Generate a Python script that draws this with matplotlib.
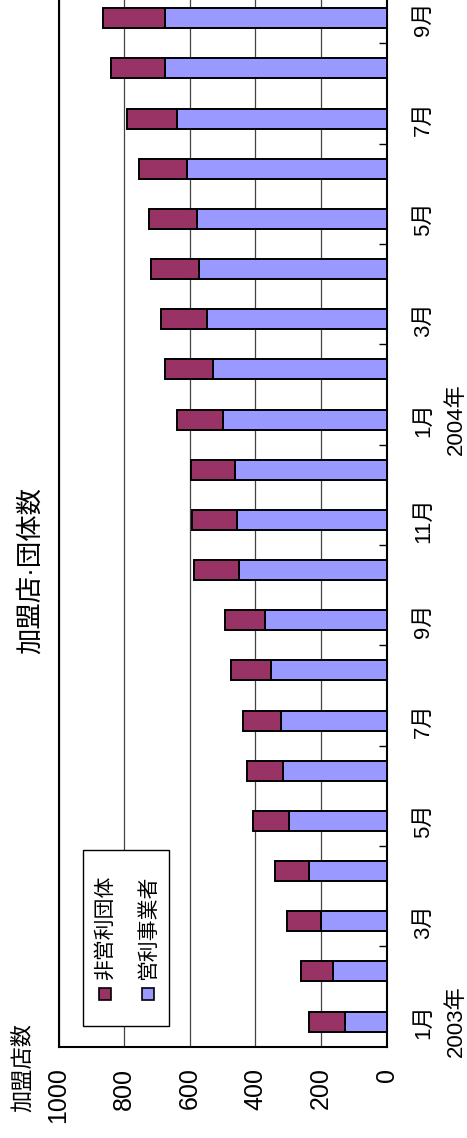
import numpy as np
import matplotlib
matplotlib.use("Agg")
import matplotlib.pyplot as plt
from matplotlib.patches import Rectangle

plt.rcParams['font.family'] = ['Liberation Sans', 'Noto Sans CJK JP', 'DejaVu Sans']

# 2003年1月 .. 2004年9月
months = ['1月', '2月', '3月', '4月', '5月', '6月', '7月', '8月', '9月', '10月', '11月', '12月',
          '1月', '2月', '3月', '4月', '5月', '6月', '7月', '8月', '9月']
years = {0: '2003年', 12: '2004年'}
commercial = [128, 163, 201, 236, 297, 317, 323, 353, 371, 450, 456, 462,
              498, 530, 548, 571, 577, 608, 639, 676, 676]
nonprofit = [108, 99, 103, 105, 111, 109, 115, 122, 122, 136, 136, 135,
             142, 146, 141, 148, 147, 147, 152, 164, 188]
series_names = ['非営利団体', '営利事業者']
value_ticks = [0, 200, 400, 600, 800, 1000]

C_NP = '#993366'
C_CO = '#9999FF'

W, H = 467, 1138
AX_L, AX_R, AX_B, AX_T = 58.5, 386.7, 1046.7, -6.8   # pixel edges of plot area


def fx(px):
  return px / W


def fy(py):
  return 1 - py / H


fig = plt.figure(figsize=(W / 100, H / 100), dpi=100)
ax = fig.add_axes([fx(AX_L), fy(AX_B), fx(AX_R) - fx(AX_L), fy(AX_T) - fy(AX_B)])

y = np.arange(len(months))
ax.barh(y, commercial, height=0.4, color=C_CO, edgecolor='black', linewidth=1.4, zorder=3)
ax.barh(y, nonprofit, left=commercial, height=0.4, color=C_NP, edgecolor='black',
        linewidth=1.4, zorder=3)

ax.set_xlim(1000, 0)
ax.set_ylim(-0.5, len(months) - 0.5)
ax.set_xticks(value_ticks)
ax.set_xticklabels([str(v) for v in value_ticks])
ax.tick_params(axis='x', length=0, pad=15, labelsize=18, labelrotation=90)
ax.xaxis.grid(True, color='#444444', linewidth=0.9, zorder=0)
ax.set_axisbelow(True)

ax.yaxis.tick_right()
ax.set_yticks(y[::2])
ax.set_yticklabels(months[::2])
ax.set_yticks(np.arange(1.5, len(months) - 1, 2), minor=True)
ax.tick_params(axis='y', which='major', length=0, pad=19, labelsize=16, labelrotation=90)
ax.tick_params(axis='y', which='minor', direction='in', length=6, width=1, color='black')
for lab in ax.get_yticklabels():
  lab.set_verticalalignment('center')

for s in ax.spines.values():
  s.set_linewidth(1.5)
  s.set_color('black')

year_x = (456 - AX_L) / (AX_R - AX_L)
for idx, yr in years.items():
  ax.text(year_x, idx, yr, transform=ax.get_yaxis_transform(),
          rotation=90, ha='center', va='center', fontsize=16, clip_on=False)

# title and axis label
fig.text(fx(30), fy(570), '加盟店·団体数', rotation=90, ha='center', va='center', fontsize=19)
fig.text(fx(23), fy(1068), '加盟店数', rotation=90, ha='center', va='center', fontsize=16)

# legend (rotated like the rest of the chart)
leg = Rectangle((fx(82.7), fy(1025.7)), fx(168.7) - fx(82.7), fy(850) - fy(1025.7),
                transform=fig.transFigure, facecolor='white', edgecolor='black',
                linewidth=1.0, zorder=5)
fig.add_artist(leg)
for name, col, cx in [(series_names[0], C_NP, 105), (series_names[1], C_CO, 148)]:
  sq = Rectangle((fx(cx - 6), fy(1000)), fx(12), 12 / H, transform=fig.transFigure,
                 facecolor=col, edgecolor='black', linewidth=1.2, zorder=6)
  fig.add_artist(sq)
  fig.text(fx(cx), fy(980), name, rotation=90, ha='center', va='bottom', fontsize=15, zorder=6)

fig.savefig('out.png', dpi=100)
